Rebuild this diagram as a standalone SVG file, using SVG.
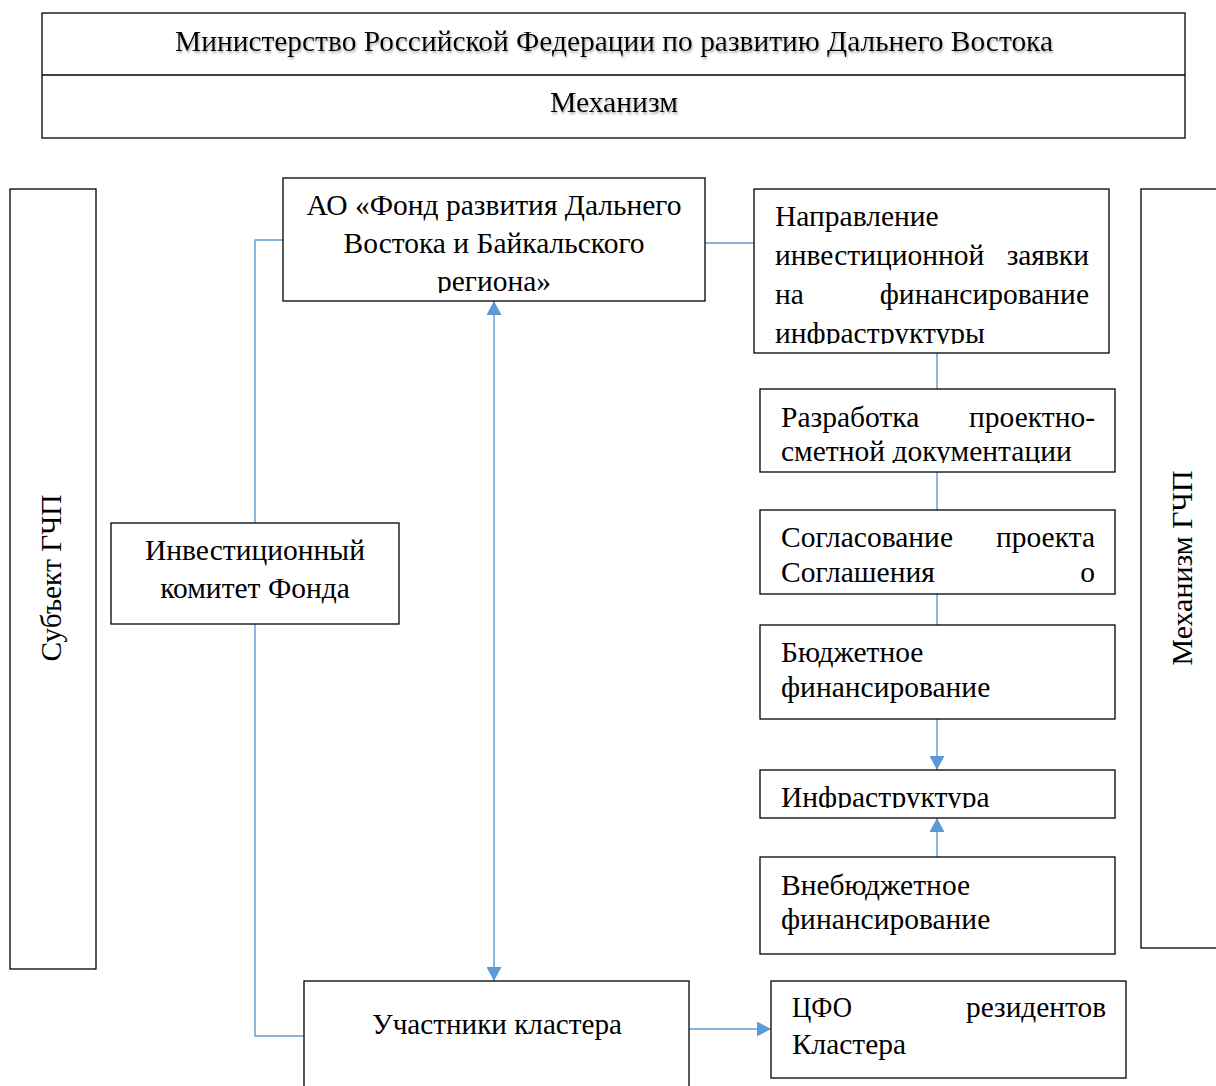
<svg xmlns="http://www.w3.org/2000/svg" width="1216" height="1086" viewBox="0 0 1216 1086">
<style>
.box{fill:#fff;stroke:#000;stroke-width:1.3}
.t{font-family:"Liberation Serif","Times New Roman",serif;font-size:29.5px;fill:#000}
.c{text-anchor:middle}
.e{text-anchor:end}
.con{fill:none;stroke:#5B9BD5;stroke-width:1.4}
</style>
<defs>
<marker id="ah" viewBox="0 0 14 15" refX="14" refY="7.5" markerWidth="14" markerHeight="15" markerUnits="userSpaceOnUse" orient="auto-start-reverse">
<path d="M0,0 L14,7.5 L0,15 Z" fill="#5B9BD5"/>
</marker>
<filter id="sh" x="-5%" y="-30%" width="110%" height="160%">
<feDropShadow dx="1" dy="2" stdDeviation="1" flood-color="#777" flood-opacity="0.6"/>
</filter>
<clipPath id="clipAO"><rect x="283" y="178" width="422" height="115"/></clipPath>
<clipPath id="clipNap"><rect x="754" y="189" width="355" height="155"/></clipPath>
<clipPath id="clipRaz"><rect x="760" y="389" width="355" height="74"/></clipPath>
<clipPath id="clipInf"><rect x="760" y="770" width="355" height="38"/></clipPath>
</defs>

<g id="connectors">
<polyline class="con" points="283,240 255,240 255,523"/>
<polyline class="con" points="255,624 255,1036 304,1036"/>
<line class="con" x1="705" y1="243" x2="754" y2="243"/>
<line class="con" x1="494" y1="301" x2="494" y2="981" marker-start="url(#ah)" marker-end="url(#ah)"/>
<line class="con" x1="937" y1="353" x2="937" y2="389"/>
<line class="con" x1="937" y1="472" x2="937" y2="510"/>
<line class="con" x1="937" y1="594" x2="937" y2="625"/>
<line class="con" x1="937" y1="719" x2="937" y2="770" marker-end="url(#ah)"/>
<line class="con" x1="937" y1="857" x2="937" y2="818" marker-end="url(#ah)"/>
<line class="con" x1="689" y1="1029" x2="771" y2="1029" marker-end="url(#ah)"/>
</g>

<g id="header">
<rect class="box" x="42" y="13" width="1143" height="125"/>
<line x1="42" y1="75" x2="1185" y2="75" stroke="#000" stroke-width="1.3"/>
<text class="t c" x="614" y="51" textLength="878" lengthAdjust="spacingAndGlyphs" filter="url(#sh)">Министерство Российской Федерации по развитию Дальнего Востока</text>
<text class="t c" x="614" y="112" textLength="128" lengthAdjust="spacingAndGlyphs" filter="url(#sh)">Механизм</text>
</g>

<g id="subject">
<rect class="box" x="10" y="189" width="86" height="780"/>
<text class="t c" transform="translate(61,578) rotate(-90)" textLength="167" lengthAdjust="spacingAndGlyphs">Субъект ГЧП</text>
</g>

<g id="mechanism">
<rect class="box" x="1141" y="189" width="90" height="759"/>
<text class="t c" transform="translate(1192,568) rotate(-90)" textLength="195" lengthAdjust="spacingAndGlyphs">Механизм ГЧП</text>
</g>

<g id="fund">
<rect class="box" x="283" y="178" width="422" height="123"/>
<g clip-path="url(#clipAO)">
<text class="t c" x="494" y="215">АО «Фонд развития Дальнего</text>
<text class="t c" x="494" y="253">Востока и Байкальского</text>
<text class="t c" x="494" y="291">региона»</text>
</g>
</g>

<g id="application">
<rect class="box" x="754" y="189" width="355" height="164"/>
<g clip-path="url(#clipNap)">
<text class="t" x="775" y="226">Направление</text>
<text class="t" x="775" y="265">инвестиционной</text>
<text class="t e" x="1089" y="265">заявки</text>
<text class="t" x="775" y="304">на</text>
<text class="t e" x="1089" y="304">финансирование</text>
<text class="t" x="775" y="343">инфраструктуры</text>
</g>
</g>

<g id="design">
<rect class="box" x="760" y="389" width="355" height="83"/>
<g clip-path="url(#clipRaz)">
<text class="t" x="781" y="427">Разработка</text>
<text class="t e" x="1095" y="427">проектно-</text>
<text class="t" x="781" y="461">сметной документации</text>
</g>
</g>

<g id="agreement">
<rect class="box" x="760" y="510" width="355" height="84"/>
<text class="t" x="781" y="547">Согласование</text>
<text class="t e" x="1095" y="547">проекта</text>
<text class="t" x="781" y="582">Соглашения</text>
<text class="t e" x="1095" y="582">о</text>
</g>

<g id="budget">
<rect class="box" x="760" y="625" width="355" height="94"/>
<text class="t" x="781" y="662">Бюджетное</text>
<text class="t" x="781" y="697">финансирование</text>
</g>

<g id="infrastructure">
<rect class="box" x="760" y="770" width="355" height="48"/>
<g clip-path="url(#clipInf)">
<text class="t" x="781" y="807">Инфраструктура</text>
</g>
</g>

<g id="extrabudget">
<rect class="box" x="760" y="857" width="355" height="97"/>
<text class="t" x="781" y="895">Внебюджетное</text>
<text class="t" x="781" y="929">финансирование</text>
</g>

<g id="committee">
<rect class="box" x="111" y="523" width="288" height="101"/>
<text class="t c" x="255" y="560">Инвестиционный</text>
<text class="t c" x="255" y="598">комитет Фонда</text>
</g>

<g id="participants">
<rect class="box" x="304" y="981" width="385" height="120"/>
<text class="t c" x="497" y="1034" textLength="250" lengthAdjust="spacingAndGlyphs">Участники кластера</text>
</g>

<g id="cfo">
<rect class="box" x="771" y="981" width="355" height="97"/>
<text class="t" x="792" y="1017" textLength="60" lengthAdjust="spacingAndGlyphs">ЦФО</text>
<text class="t e" x="1106" y="1017" textLength="140" lengthAdjust="spacingAndGlyphs">резидентов</text>
<text class="t" x="792" y="1054" textLength="114" lengthAdjust="spacingAndGlyphs">Кластера</text>
</g>
</svg>
